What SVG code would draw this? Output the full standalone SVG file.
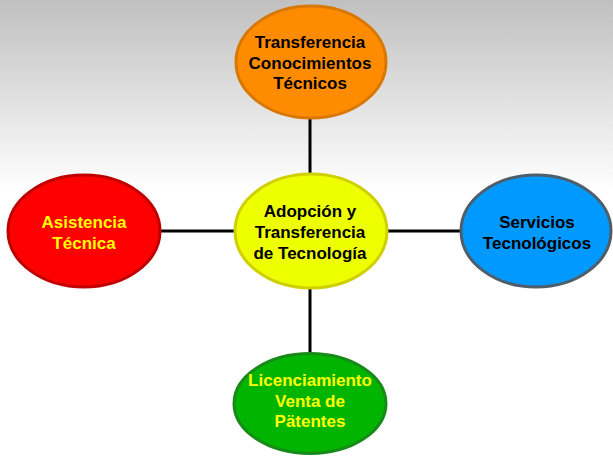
<svg xmlns="http://www.w3.org/2000/svg" width="613" height="456" viewBox="0 0 613 456">
<defs>
<linearGradient id="bg" x1="0" y1="0" x2="0" y2="456" gradientUnits="userSpaceOnUse">
<stop offset="0" stop-color="#c0c0c0"/>
<stop offset="0.42" stop-color="#ffffff"/>
<stop offset="1" stop-color="#ffffff"/>
</linearGradient>
<style>
.n{stroke-width:3}
.t{font-family:"Liberation Sans",Arial,sans-serif;font-weight:bold;font-size:17px;text-anchor:middle}
.k{fill:#000000}
.y{fill:#ffff00}
.c{stroke:#000000;stroke-width:3;fill:none}
</style>
</defs>
<rect x="0" y="0" width="613" height="456" fill="url(#bg)"/>
<g id="connectors">
<line class="c" x1="310" y1="119" x2="310" y2="174"/>
<line class="c" x1="310" y1="288" x2="310" y2="353"/>
<line class="c" x1="160" y1="231" x2="234" y2="231"/>
<line class="c" x1="387" y1="231" x2="461" y2="231"/>
</g>
<g id="node-top">
<ellipse class="n" cx="311" cy="62" rx="75" ry="56" fill="#ff8c00" stroke="#d97800"/>
<text class="t k" x="310" y="48">Transferencia</text>
<text class="t k" x="310" y="68.5">Conocimientos</text>
<text class="t k" x="310" y="89">Técnicos</text>
</g>
<g id="node-left">
<ellipse class="n" cx="84" cy="231" rx="76" ry="56" fill="#ff0000" stroke="#c00000"/>
<text class="t y" x="84" y="228">Asistencia</text>
<text class="t y" x="84" y="249">Técnica</text>
</g>
<g id="node-right">
<ellipse class="n" cx="536" cy="231" rx="75" ry="56" fill="#0099ff" stroke="#4f5e68"/>
<text class="t k" x="537" y="228">Servicios</text>
<text class="t k" x="537" y="249">Tecnológicos</text>
</g>
<g id="node-center">
<ellipse class="n" cx="311" cy="231" rx="76" ry="57" fill="#eeff00" stroke="#d0d000"/>
<text class="t k" x="310" y="217">Adopción y</text>
<text class="t k" x="310" y="238">Transferencia</text>
<text class="t k" x="310" y="259">de Tecnología</text>
</g>
<g id="node-bottom">
<ellipse class="n" cx="310" cy="403.5" rx="76" ry="50" fill="#00b400" stroke="#178a17"/>
<text class="t y" x="310" y="386">Licenciamiento</text>
<text class="t y" x="310" y="406.5">Venta de</text>
<text class="t y" x="310" y="427">Pätentes</text>
</g>
</svg>
